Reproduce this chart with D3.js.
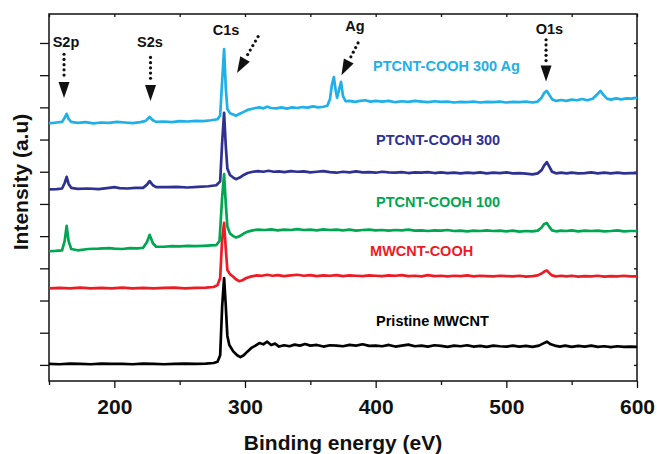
<!DOCTYPE html>
<html>
<head>
<meta charset="utf-8">
<script src="https://cdn.jsdelivr.net/npm/d3@7"></script>
<style>
  body { margin: 0; background: #fff; }
  svg { display: block; font-family: "Liberation Sans", Arial, sans-serif; }
</style>
</head>
<body>
<div class="chart"></div>
<script>
// XPS survey spectra, energy in eV, intensity in stacked arbitrary units
var pristine = [[150,0.03],[158,0.02],[166,0.04],[174,0.03],[182,0.02],[190,0.04],[198,0.03],[206,0.03],[214,0.02],[222,0.04],[230,0.03],[238,0.02],[246,0.03],[254,0.04],[262,0.03],[270,0.04],[276,0.06],[279,0.1],[281,0.3],[282.5,1.8],[284,2.7],[285.2,1.9],[286.5,0.9],[288,0.62],[291,0.42],[294,0.3],[296.5,0.24],[299,0.3],[302,0.42],[305,0.53],[308,0.6],[311,0.68],[314,0.64],[317,0.72],[320,0.62],[323,0.66],[326,0.57],[330,0.61],[334,0.58],[338,0.63],[342,0.6],[346,0.65],[350,0.6],[355,0.62],[360,0.57],[365,0.61],[370,0.6],[375,0.58],[380,0.62],[385,0.6],[390,0.64],[395,0.59],[400,0.6],[405,0.58],[410,0.62],[415,0.57],[420,0.6],[425,0.63],[430,0.58],[435,0.6],[440,0.57],[445,0.61],[450,0.59],[455,0.56],[460,0.6],[465,0.58],[470,0.61],[475,0.57],[480,0.59],[485,0.56],[490,0.6],[495,0.58],[500,0.57],[505,0.6],[510,0.57],[515,0.59],[520,0.56],[525,0.6],[528,0.66],[531,0.72],[534,0.64],[537,0.6],[541,0.57],[545,0.6],[550,0.56],[555,0.59],[560,0.57],[565,0.6],[570,0.56],[575,0.58],[580,0.55],[585,0.58],[590,0.56],[595,0.57],[600,0.56]];

var mwcntCooh = [[150,2.38],[158,2.39],[166,2.38],[174,2.4],[182,2.38],[190,2.39],[198,2.38],[206,2.4],[214,2.38],[222,2.39],[230,2.38],[238,2.39],[246,2.4],[254,2.38],[262,2.39],[270,2.4],[276,2.42],[279,2.48],[281,2.7],[282.5,3.9],[284,4.41],[285.3,3.6],[286.5,2.95],[288.5,2.82],[291,2.74],[293,2.66],[295.5,2.6],[298,2.63],[301,2.7],[305,2.75],[309,2.78],[313,2.77],[317,2.8],[321,2.77],[325,2.79],[330,2.76],[335,2.78],[340,2.8],[345,2.77],[350,2.79],[355,2.76],[360,2.78],[365,2.77],[370,2.79],[375,2.76],[380,2.78],[385,2.77],[390,2.76],[395,2.78],[400,2.77],[405,2.76],[410,2.78],[415,2.77],[420,2.79],[425,2.76],[430,2.77],[435,2.75],[440,2.79],[445,2.76],[450,2.77],[455,2.75],[460,2.77],[465,2.76],[470,2.78],[475,2.75],[480,2.77],[485,2.76],[490,2.75],[495,2.77],[500,2.76],[505,2.75],[510,2.77],[515,2.74],[520,2.76],[524,2.78],[527,2.84],[529,2.9],[531,2.93],[533,2.85],[535,2.78],[538,2.75],[542,2.77],[546,2.75],[550,2.77],[555,2.74],[560,2.76],[565,2.75],[570,2.77],[575,2.74],[580,2.76],[585,2.75],[590,2.77],[595,2.75],[600,2.75]];

var ptcnt100 = [[150,3.53],[155,3.54],[160,3.56],[162,3.85],[163.5,4.32],[165,3.85],[167,3.6],[172,3.56],[180,3.6],[188,3.61],[196,3.63],[200,3.61],[206,3.6],[212,3.63],[218,3.62],[222,3.64],[225,3.82],[227,4.04],[229.5,3.78],[232,3.67],[238,3.67],[244,3.69],[250,3.68],[256,3.7],[262,3.69],[268,3.7],[274,3.71],[278,3.72],[280.5,3.85],[282.5,5.2],[284,5.93],[285.3,5.0],[286.5,4.3],[288.5,4.08],[291,4.0],[293,3.96],[296,4.0],[299,4.08],[302,4.14],[306,4.18],[310,4.2],[315,4.19],[320,4.21],[325,4.18],[330,4.2],[335,4.19],[340,4.22],[345,4.19],[350,4.2],[355,4.18],[360,4.21],[365,4.19],[370,4.2],[375,4.18],[380,4.2],[385,4.17],[390,4.19],[395,4.2],[400,4.18],[405,4.19],[410,4.17],[415,4.19],[420,4.18],[425,4.2],[430,4.17],[435,4.18],[440,4.16],[445,4.18],[450,4.17],[455,4.19],[460,4.16],[465,4.17],[470,4.15],[475,4.17],[480,4.16],[485,4.18],[490,4.16],[495,4.17],[500,4.15],[505,4.17],[510,4.14],[515,4.16],[520,4.15],[524,4.17],[527,4.27],[529,4.38],[531,4.41],[533,4.28],[535,4.18],[538,4.15],[542,4.17],[546,4.16],[550,4.18],[555,4.15],[560,4.17],[565,4.16],[570,4.17],[575,4.15],[580,4.16],[585,4.18],[590,4.15],[595,4.16],[600,4.16]];

var ptcnt300 = [[150,5.45],[156,5.46],[160,5.48],[162,5.65],[163.5,5.84],[165,5.62],[167,5.5],[172,5.47],[180,5.48],[188,5.46],[196,5.5],[200,5.52],[204,5.49],[210,5.48],[216,5.5],[222,5.5],[225,5.6],[227,5.71],[229.5,5.58],[232,5.52],[240,5.52],[248,5.53],[256,5.51],[264,5.53],[272,5.55],[278,5.58],[281,5.7],[282.5,6.9],[284,7.83],[285.3,6.8],[286.5,6.1],[288.5,5.9],[291,5.82],[293,5.77],[296,5.82],[299,5.9],[302,5.96],[306,6.0],[310,6.02],[314,6.0],[318,6.03],[322,6.0],[326,6.01],[330,5.99],[335,6.02],[340,6.0],[345,6.01],[350,5.98],[355,6.0],[360,6.02],[365,5.99],[370,5.97],[375,6.0],[380,5.98],[385,6.01],[390,5.98],[395,5.99],[400,5.97],[405,6.0],[410,5.98],[415,5.97],[420,5.99],[425,5.96],[430,5.98],[435,5.97],[440,5.99],[445,5.96],[450,5.98],[455,5.96],[460,5.97],[465,5.95],[470,5.97],[475,5.96],[480,5.98],[485,5.95],[490,5.97],[495,5.96],[500,5.98],[505,5.95],[510,5.96],[515,5.94],[520,5.92],[524,5.95],[527,6.05],[529,6.2],[531,6.3],[533,6.15],[535,6.0],[538,5.95],[542,5.97],[546,5.95],[550,5.97],[555,5.95],[560,5.96],[565,5.98],[570,5.95],[575,5.97],[580,5.95],[585,5.97],[590,5.95],[595,5.96],[600,5.96]];

var ptcnt300Ag = [[150,7.5],[156,7.53],[160,7.55],[162,7.68],[163.5,7.8],[165,7.64],[167,7.55],[172,7.52],[178,7.54],[184,7.5],[190,7.53],[196,7.52],[202,7.55],[208,7.53],[214,7.51],[220,7.54],[224,7.58],[227,7.7],[229.5,7.6],[232,7.55],[238,7.56],[244,7.54],[250,7.57],[256,7.56],[262,7.58],[268,7.57],[274,7.6],[279,7.63],[281,7.75],[282.5,8.8],[284,9.81],[285.3,8.6],[286.5,7.95],[288.5,7.82],[291,7.78],[293,7.74],[296,7.8],[299,7.86],[302,7.92],[305,7.95],[308,7.98],[311,8.0],[314,7.97],[317,8.02],[320,7.98],[324,7.97],[328,8.0],[332,7.96],[336,8.0],[340,7.98],[344,8.01],[348,7.99],[352,8.03],[356,8.0],[360,8.02],[363,8.05],[365,8.25],[366.5,8.7],[368,8.94],[369.5,8.5],[370.5,8.3],[372,8.55],[373.5,8.79],[375,8.35],[377,8.19],[380,8.2],[384,8.17],[388,8.2],[392,8.22],[396,8.18],[400,8.2],[405,8.18],[410,8.2],[415,8.16],[420,8.19],[425,8.17],[430,8.2],[435,8.18],[440,8.16],[445,8.19],[450,8.17],[455,8.18],[460,8.15],[465,8.17],[470,8.16],[475,8.18],[480,8.15],[485,8.17],[490,8.16],[495,8.18],[500,8.15],[505,8.17],[510,8.16],[515,8.18],[520,8.15],[524,8.18],[527,8.3],[529,8.45],[531,8.51],[533,8.38],[535,8.25],[538,8.2],[542,8.23],[546,8.2],[550,8.24],[554,8.22],[558,8.26],[562,8.22],[566,8.27],[569,8.38],[572,8.51],[574.5,8.38],[577,8.27],[580,8.24],[584,8.28],[588,8.25],[592,8.28],[596,8.27],[600,8.3]];

var seriesNames = ['Pristine MWCNT', 'MWCNT-COOH', 'PTCNT-COOH 100', 'PTCNT-COOH 300', 'PTCNT-COOH 300 Ag'];
var seriesData = [pristine, mwcntCooh, ptcnt100, ptcnt300, ptcnt300Ag];
var seriesColors = ['#000000', '#ed1c24', '#00a651', '#2e3192', '#1fb0e8'];
// where each series name sits (energy, intensity)
var labelPos = [[400.3, 1.21], [395.7, 3.39], [400.3, 4.91], [400.3, 6.83], [398, 9.13]];

var majorTicks = [200, 300, 400, 500, 600];
var minorTicks = [150, 250, 350, 450, 550];
var yTicks = [0, 1, 2, 3, 4, 5, 6, 7, 8, 9, 10];

// peak annotations: label position and arrow start/tip, all in data units
var peakNames = ['S2p', 'S2s', 'C1s', 'Ag', 'O1s'];
var peakLabelPos = [[163, 9.88], [227.3, 9.88], [285.5, 10.25], [384.2, 10.37], [533, 10.28]];
var peakArrowFrom = [[161.5, 9.65], [227.7, 9.55], [310, 10.2], [386.5, 10.0], [530.4, 10.1]];
var peakArrowTo = [[161.5, 8.29], [227.7, 8.2], [293.9, 9.07], [373.8, 9.0], [530.4, 8.8]];

var W = 657, H = 454;
var margin = { top: 14, right: 20, bottom: 73, left: 49 };

var x = d3.scaleLinear().domain([150, 600]).range([margin.left, W - margin.right]);
var y = d3.scaleLinear().domain([-0.5, 10.9]).range([H - margin.bottom, margin.top]);

var svg = d3.select('.chart').append('svg')
    .attr('width', W)
    .attr('height', H);

var bottom = H - margin.bottom, right = W - margin.right;

// frame ticks
svg.append('g')
    .attr('transform', 'translate(0,' + bottom + ')')
    .call(d3.axisBottom(x).tickValues(majorTicks).tickSize(7).tickPadding(11))
    .call(function(g) {
      g.select('.domain').remove();
      g.selectAll('text').attr('font-size', 21).attr('font-weight', 'bold').attr('fill', '#111');
    });
svg.append('g')
    .attr('transform', 'translate(0,' + bottom + ')')
    .call(d3.axisBottom(x).tickValues(minorTicks).tickSize(4).tickFormat(''))
    .call(function(g) { g.select('.domain').remove(); });
svg.append('g')
    .attr('transform', 'translate(0,' + margin.top + ')')
    .call(d3.axisBottom(x).tickValues(majorTicks.concat(minorTicks)).tickSize(3).tickFormat(''))
    .call(function(g) { g.select('.domain').remove(); });
svg.append('g')
    .attr('transform', 'translate(' + margin.left + ',0)')
    .call(d3.axisLeft(y).tickValues(yTicks).tickSize(9).tickFormat(''))
    .call(function(g) { g.select('.domain').remove(); });
svg.append('g')
    .attr('transform', 'translate(' + right + ',0)')
    .call(d3.axisLeft(y).tickValues(yTicks).tickSize(3).tickFormat(''))
    .call(function(g) { g.select('.domain').remove(); });

svg.selectAll('.tick line').attr('stroke', '#111').attr('stroke-width', 1.3);

svg.append('rect')
    .attr('x', margin.left)
    .attr('y', margin.top)
    .attr('width', right - margin.left)
    .attr('height', bottom - margin.top)
    .attr('fill', 'none')
    .attr('stroke', '#111')
    .attr('stroke-width', 1.5);

var line = d3.line()
    .x(function(d) { return x(d[0]); })
    .y(function(d) { return y(d[1]); });

svg.selectAll('path.spectrum')
    .data(seriesData)
    .enter().append('path')
    .attr('class', 'spectrum')
    .attr('d', line)
    .attr('fill', 'none')
    .attr('stroke', function(d, i) { return seriesColors[i]; })
    .attr('stroke-width', 2.7)
    .attr('stroke-linejoin', 'round');

svg.selectAll('text.series')
    .data(seriesNames)
    .enter().append('text')
    .attr('class', 'series')
    .attr('x', function(d, i) { return x(labelPos[i][0]); })
    .attr('y', function(d, i) { return y(labelPos[i][1]); })
    .attr('fill', function(d, i) { return seriesColors[i]; })
    .attr('font-size', 14.5)
    .attr('font-weight', 'bold')
    .text(function(d) { return d; });

// peak labels + dotted arrows
svg.selectAll('text.peak')
    .data(peakNames)
    .enter().append('text')
    .attr('class', 'peak')
    .attr('x', function(d, i) { return x(peakLabelPos[i][0]); })
    .attr('y', function(d, i) { return y(peakLabelPos[i][1]); })
    .attr('text-anchor', 'middle')
    .attr('font-size', 14.5)
    .attr('font-weight', 'bold')
    .attr('fill', '#111')
    .text(function(d) { return d; });

peakNames.forEach(function(name, i) {
  var x0 = x(peakArrowFrom[i][0]), y0 = y(peakArrowFrom[i][1]);
  var x1 = x(peakArrowTo[i][0]), y1 = y(peakArrowTo[i][1]);
  var len = Math.hypot(x1 - x0, y1 - y0);
  var ux = (x1 - x0) / len, uy = (y1 - y0) / len;
  var headLen = 16, halfW = 5.5;
  var bx = x1 - ux * headLen, by = y1 - uy * headLen;
  var g = svg.append('g');
  for (var t = 0; t <= len - headLen - 4; t += 5.2) {
    g.append('circle')
        .attr('cx', x0 + ux * t)
        .attr('cy', y0 + uy * t)
        .attr('r', 1.6)
        .attr('fill', '#111');
  }
  g.append('path')
      .attr('d', 'M' + x1 + ',' + y1 +
                 'L' + (bx - uy * halfW) + ',' + (by + ux * halfW) +
                 'L' + (bx + uy * halfW) + ',' + (by - ux * halfW) + 'Z')
      .attr('fill', '#111');
});

svg.append('text')
    .attr('x', (margin.left + right) / 2)
    .attr('y', 450)
    .attr('text-anchor', 'middle')
    .attr('font-size', 21)
    .attr('font-weight', 'bold')
    .attr('fill', '#111')
    .text('Binding energy (eV)');

svg.append('text')
    .attr('transform', 'translate(28,182) rotate(-90)')
    .attr('text-anchor', 'middle')
    .attr('font-size', 21)
    .attr('font-weight', 'bold')
    .attr('fill', '#111')
    .text('Intensity (a.u)');
</script>
</body>
</html>
